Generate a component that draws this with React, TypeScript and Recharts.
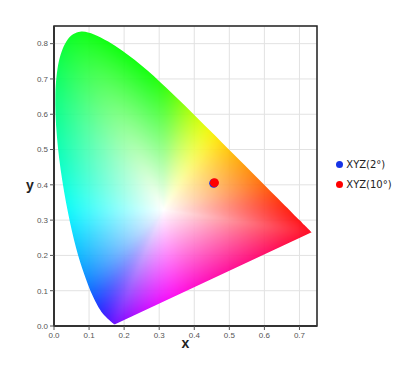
import React from 'react';
import {
  ScatterChart, Scatter, XAxis, YAxis, CartesianGrid, ReferenceArea, Legend,
} from 'recharts';

// CIE 1931 2° spectral locus (380–700 nm, 5 nm steps)
const WAVELENGTH = [380,385,390,395,400,405,410,415,420,425,430,435,440,445,450,455,460,465,470,475,480,485,490,495,500,505,510,515,520,525,530,535,540,545,550,555,560,565,570,575,580,585,590,595,600,605,610,615,620,625,630,635,640,645,650,655,660,665,670,675,680,685,690,695,700];
const LOCUS_X = [0.1741,0.1740,0.1738,0.1736,0.1733,0.1730,0.1726,0.1721,0.1714,0.1703,0.1689,0.1669,0.1644,0.1611,0.1566,0.1510,0.1440,0.1355,0.1241,0.1096,0.0913,0.0687,0.0454,0.0235,0.0082,0.0039,0.0139,0.0389,0.0743,0.1142,0.1547,0.1929,0.2296,0.2658,0.3016,0.3373,0.3731,0.4087,0.4441,0.4788,0.5125,0.5448,0.5752,0.6029,0.6270,0.6482,0.6658,0.6801,0.6915,0.7006,0.7079,0.7140,0.7190,0.7230,0.7260,0.7283,0.7300,0.7311,0.7320,0.7327,0.7334,0.7340,0.7344,0.7346,0.7347];
const LOCUS_Y = [0.0050,0.0050,0.0049,0.0049,0.0048,0.0048,0.0048,0.0048,0.0051,0.0058,0.0069,0.0086,0.0109,0.0138,0.0177,0.0227,0.0297,0.0399,0.0578,0.0868,0.1327,0.2007,0.2950,0.4127,0.5384,0.6548,0.7502,0.8120,0.8338,0.8262,0.8059,0.7816,0.7543,0.7243,0.6923,0.6589,0.6245,0.5896,0.5547,0.5202,0.4866,0.4544,0.4242,0.3965,0.3725,0.3514,0.3340,0.3197,0.3083,0.2993,0.2920,0.2859,0.2809,0.2770,0.2740,0.2717,0.2700,0.2689,0.2680,0.2673,0.2666,0.2660,0.2656,0.2654,0.2653];

// white point used for the colour fill (D65)
const WHITE_POINT = [0.3127, 0.329];

const X_TICKS = [0, 0.1, 0.2, 0.3, 0.4, 0.5, 0.6, 0.7];
const Y_TICKS = [0, 0.1, 0.2, 0.3, 0.4, 0.5, 0.6, 0.7, 0.8];
const X_DOMAIN: [number, number] = [0, 0.75];
const Y_DOMAIN: [number, number] = [0, 0.85];

const SERIES_NAMES = ['XYZ(2°)', 'XYZ(10°)'];
const SERIES_COLORS = ['#1633e6', '#ff0000'];
const WHITE_X = [0.4555, 0.4575];
const WHITE_Y = [0.4045, 0.4062];

const locusData = WAVELENGTH.map((w, i) => ({ w, x: LOCUS_X[i], y: LOCUS_Y[i] }));
const seriesData = SERIES_NAMES.map((_, i) => [{ x: WHITE_X[i], y: WHITE_Y[i] }]);

function gammaEnc(c: number) {
  return c <= 0.0031308 ? 12.92 * c : 1.055 * Math.pow(c, 1 / 2.4) - 0.055;
}

function xyToRgb(x: number, y: number): [number, number, number] {
  const yy = Math.max(y, 1e-4);
  const X = x / yy;
  const Z = (1 - x - yy) / yy;
  let r = 3.2406 * X - 1.5372 - 0.4986 * Z;
  let g = -0.9689 * X + 1.8758 + 0.0415 * Z;
  let b = 0.0557 * X - 0.204 + 1.057 * Z;
  r = Math.max(0, r); g = Math.max(0, g); b = Math.max(0, b);
  const m = Math.max(r, g, b, 1e-9);
  return [gammaEnc(r / m) * 255, gammaEnc(g / m) * 255, gammaEnc(b / m) * 255];
}

// boundary distance from the white point along a direction
function boundaryDistance(vx: number, vy: number) {
  const wx = WHITE_POINT[0];
  const wy = WHITE_POINT[1];
  const n = LOCUS_X.length;
  let best = Infinity;
  for (let i = 0; i < n; i++) {
    const ax = LOCUS_X[i], ay = LOCUS_Y[i];
    const bx = LOCUS_X[(i + 1) % n], by = LOCUS_Y[(i + 1) % n];
    const ex = bx - ax, ey = by - ay;
    const den = vx * ey - vy * ex;
    if (Math.abs(den) < 1e-14) continue;
    const qx = ax - wx, qy = ay - wy;
    const s = (qx * ey - qy * ex) / den;
    const u = (qx * vy - qy * vx) / den;
    if (s > 0 && u >= -1e-9 && u <= 1 + 1e-9 && s < best) best = s;
  }
  return best;
}

const N_ANGLES = 1440;
let angleTable: { r: Float64Array; c: Float64Array } | null = null;

function getAngleTable() {
  if (angleTable) return angleTable;
  const raw = new Float64Array(N_ANGLES * 3);
  const rRaw = new Float64Array(N_ANGLES);
  for (let k = 0; k < N_ANGLES; k++) {
    const th = (k / N_ANGLES) * Math.PI * 2;
    const vx = Math.cos(th), vy = Math.sin(th);
    const s = boundaryDistance(vx, vy);
    rRaw[k] = s;
    const col = xyToRgb(WHITE_POINT[0] + vx * s, WHITE_POINT[1] + vy * s);
    raw[k * 3] = col[0]; raw[k * 3 + 1] = col[1]; raw[k * 3 + 2] = col[2];
  }
  const smooth = (src: Float64Array, stride: number, sigma: number) => {
    const half = Math.ceil(sigma * 3);
    const dst = new Float64Array(src.length);
    for (let k = 0; k < N_ANGLES; k++) {
      for (let ch = 0; ch < stride; ch++) {
        let s = 0, sw = 0;
        for (let d = -half; d <= half; d++) {
          const idx = (k + d + N_ANGLES) % N_ANGLES;
          const wgt = Math.exp(-(d * d) / (2 * sigma * sigma));
          s += src[idx * stride + ch] * wgt; sw += wgt;
        }
        dst[k * stride + ch] = s / sw;
      }
    }
    return dst;
  };
  const c = smooth(raw, 3, 26);
  // mildly smoothed radius for the saturation ramp (kept within the true boundary)
  const rs = smooth(rRaw, 1, 6);
  const r = new Float64Array(N_ANGLES);
  for (let k = 0; k < N_ANGLES; k++) r[k] = Math.min(rs[k], rRaw[k]);
  angleTable = { r, c };
  return angleTable;
}

function fillColour(x: number, y: number): [number, number, number] {
  const vx = x - WHITE_POINT[0];
  const vy = y - WHITE_POINT[1];
  const len = Math.sqrt(vx * vx + vy * vy);
  if (len < 1e-9) return [255, 255, 255];
  const { r, c } = getAngleTable();
  let th = Math.atan2(vy, vx);
  if (th < 0) th += Math.PI * 2;
  const f = (th / (Math.PI * 2)) * N_ANGLES;
  const k0 = Math.floor(f) % N_ANGLES;
  const k1 = (k0 + 1) % N_ANGLES;
  const u = f - Math.floor(f);
  const rad = r[k0] * (1 - u) + r[k1] * u;
  const t = Math.min(1, len / rad);
  const out: [number, number, number] = [0, 0, 0];
  for (let ch = 0; ch < 3; ch++) {
    const e = c[k0 * 3 + ch] * (1 - u) + c[k1 * 3 + ch] * u;
    out[ch] = 255 + (e - 255) * t;
  }
  return out;
}

const imageCache: Record<string, string> = {};

function tracePath(ctx: CanvasRenderingContext2D, pts: { x: number; y: number }[]) {
  // smooth Catmull-Rom curve along the spectral locus, straight line of purples back
  const n = pts.length;
  ctx.moveTo(pts[0].x, pts[0].y);
  for (let i = 0; i < n - 1; i++) {
    const p0 = pts[Math.max(0, i - 1)];
    const p1 = pts[i];
    const p2 = pts[i + 1];
    const p3 = pts[Math.min(n - 1, i + 2)];
    ctx.bezierCurveTo(
      p1.x + (p2.x - p0.x) / 6, p1.y + (p2.y - p0.y) / 6,
      p2.x - (p3.x - p1.x) / 6, p2.y - (p3.y - p1.y) / 6,
      p2.x, p2.y,
    );
  }
  ctx.closePath();
}

function renderHorseshoe(props: any) {
  const pts: { x: number; y: number }[] = (props.points || []).filter(
    (p: any) => p && Number.isFinite(p.x) && Number.isFinite(p.y),
  );
  if (pts.length !== locusData.length) return <g />;
  // pixel mapping derived from the library-positioned locus points
  const iA = 0;
  const iB = locusData.length - 1;
  const iTop = LOCUS_Y.indexOf(Math.max(...LOCUS_Y));
  const sx = (pts[iB].x - pts[iA].x) / (LOCUS_X[iB] - LOCUS_X[iA]);
  const sy = (pts[iTop].y - pts[iA].y) / (LOCUS_Y[iTop] - LOCUS_Y[iA]);
  const toDataX = (px: number) => LOCUS_X[iA] + (px - pts[iA].x) / sx;
  const toDataY = (py: number) => LOCUS_Y[iA] + (py - pts[iA].y) / sy;

  const minX = Math.floor(Math.min(...pts.map((p) => p.x))) - 2;
  const maxX = Math.ceil(Math.max(...pts.map((p) => p.x))) + 2;
  const minY = Math.floor(Math.min(...pts.map((p) => p.y))) - 2;
  const maxY = Math.ceil(Math.max(...pts.map((p) => p.y))) + 2;
  const w = maxX - minX;
  const h = maxY - minY;
  const key = pts.map((p) => `${p.x.toFixed(2)},${p.y.toFixed(2)}`).join(';');
  let url = imageCache[key];
  if (!url && typeof document !== 'undefined') {
    const tmp = document.createElement('canvas');
    tmp.width = w; tmp.height = h;
    const tctx = tmp.getContext('2d')!;
    const img = tctx.createImageData(w, h);
    for (let j = 0; j < h; j++) {
      const dy = toDataY(minY + j + 0.5);
      for (let i = 0; i < w; i++) {
        const dx = toDataX(minX + i + 0.5);
        const [r, g, b] = fillColour(dx, dy);
        const k = (j * w + i) * 4;
        img.data[k] = r; img.data[k + 1] = g; img.data[k + 2] = b; img.data[k + 3] = 255;
      }
    }
    tctx.putImageData(img, 0, 0);
    const out = document.createElement('canvas');
    out.width = w; out.height = h;
    const ctx = out.getContext('2d')!;
    ctx.beginPath();
    tracePath(ctx, pts.map((p) => ({ x: p.x - minX, y: p.y - minY })));
    ctx.clip();
    ctx.drawImage(tmp, 0, 0);
    url = out.toDataURL('image/png');
    imageCache[key] = url;
  }
  if (!url) return <g />;
  return <image href={url} x={minX} y={minY} width={w} height={h} opacity={0.93} />;
}

const tickStyle = { fontSize: 8, fill: '#555', fontFamily: '"Liberation Sans", Arial, sans-serif' };

function LegendContent() {
  return (
    <div style={{ fontFamily: '"DejaVu Sans", sans-serif', fontSize: 10, color: '#222' }}>
      {SERIES_NAMES.map((name, i) => (
        <div key={name} style={{ display: 'flex', alignItems: 'center', height: 20 }}>
          <svg width={7} height={7} style={{ marginRight: 3.5 }}>
            <circle cx={3.5} cy={3.5} r={3.5} fill={SERIES_COLORS[i]} />
          </svg>
          <span>{name}</span>
        </div>
      ))}
    </div>
  );
}

export default function App() {
  return (
    <ScatterChart width={392} height={361} margin={{ top: 18, right: 83, bottom: 0, left: 0 }}>
      <CartesianGrid stroke="#e2e2e2" />
      <XAxis
        type="number"
        dataKey="x"
        domain={X_DOMAIN}
        ticks={X_TICKS}
        tickFormatter={(v: number) => v.toFixed(1)}
        height={43}
        tickSize={4}
        tickMargin={2}
        tick={tickStyle}
        tickLine={{ stroke: '#555' }}
        axisLine={{ stroke: '#333', strokeWidth: 2 }}
        allowDataOverflow
        label={{ value: 'x', position: 'insideBottom', offset: 21, fontSize: 14, fontWeight: 'bold', fill: '#222', fontFamily: '"Liberation Sans", Arial, sans-serif' }}
      />
      <YAxis
        type="number"
        dataKey="y"
        domain={Y_DOMAIN}
        ticks={Y_TICKS}
        tickFormatter={(v: number) => v.toFixed(1)}
        width={46}
        tickSize={4}
        tickMargin={2}
        tick={tickStyle}
        tickLine={{ stroke: '#555' }}
        axisLine={{ stroke: '#333', strokeWidth: 2 }}
        allowDataOverflow
        label={{ value: 'y', position: 'insideLeft', offset: 18, dy: 9, fontSize: 14, fontWeight: 'bold', fill: '#222', fontFamily: '"Liberation Sans", Arial, sans-serif' }}
      />
      <Scatter
        name="locus"
        data={locusData}
        fill="none"
        line={renderHorseshoe}
        lineType="joint"
        shape={() => <g />}
        legendType="none"
        isAnimationActive={false}
      />
      {SERIES_NAMES.map((name, i) => (
        <Scatter
          key={name}
          name={name}
          data={seriesData[i]}
          fill={SERIES_COLORS[i]}
          shape={(p: any) => <circle cx={p.cx} cy={p.cy} r={4.5} fill={SERIES_COLORS[i]} />}
          isAnimationActive={false}
        />
      ))}
      <ReferenceArea x1={0} x2={0.75} y1={0} y2={0.85} fill="none" fillOpacity={0} stroke="#222" strokeWidth={1.5} />
      <Legend
        layout="vertical"
        align="center"
        verticalAlign="middle"
        content={<LegendContent />}
        wrapperStyle={{ left: 327.8, top: 146.3, width: 70 }}
      />
    </ScatterChart>
  );
}
